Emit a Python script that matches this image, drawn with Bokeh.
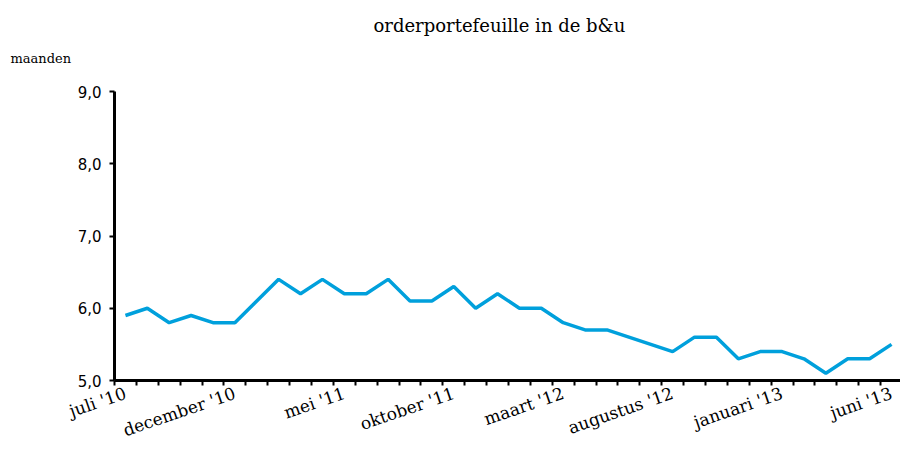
import math
from bokeh.plotting import figure
from bokeh.models import FixedTicker, Range1d, Title
from bokeh.embed import file_html
from bokeh.resources import INLINE

months = list(range(36))
values = [5.9, 6.0, 5.8, 5.9, 5.8, 5.8, 6.1, 6.4, 6.2, 6.4, 6.2, 6.2,
          6.4, 6.1, 6.1, 6.3, 6.0, 6.2, 6.0, 6.0, 5.8, 5.7, 5.7, 5.6,
          5.5, 5.4, 5.6, 5.6, 5.3, 5.4, 5.4, 5.3, 5.1, 5.3, 5.3, 5.5]
label_pos = [0, 5, 10, 15, 20, 25, 30, 35]
label_txt = ["juli '10", "december '10", "mei '11", "oktober '11",
             "maart '12", "augustus '12", "januari '13", "juni '13"]
y_ticks = [5, 6, 7, 8, 9]

SERIF = "DejaVu Serif"
W, H = 900, 452
LEFT, TOP, BOTTOM = 114, 90, 68

p = figure(width=W, height=H, output_backend="svg", toolbar_location=None,
           x_range=Range1d(-0.5, 35.41), y_range=Range1d(5, 9),
           min_border_left=LEFT, min_border_right=0, min_border_top=TOP,
           min_border_bottom=BOTTOM)
p.outline_line_color = None
p.xgrid.visible = False
p.ygrid.visible = False

p.line(months, values, line_color="#00A0DC", line_width=3.5)

xa = p.xaxis[0]
xa.ticker = FixedTicker(ticks=label_pos, minor_ticks=[m - 0.5 for m in range(37)])
xa.major_label_overrides = {k: t for k, t in zip(label_pos, label_txt)}
xa.axis_line_width = 3
xa.axis_line_color = "black"
xa.major_tick_out = 0
xa.major_tick_in = 0
xa.minor_tick_out = 5
xa.minor_tick_in = 0
xa.minor_tick_line_width = 2
xa.minor_tick_line_color = "black"
xa.major_label_orientation = math.radians(19)
xa.major_label_text_font = SERIF
xa.major_label_text_font_size = "17px"
xa.major_label_text_color = "black"
xa.major_label_standoff = 7

ya = p.yaxis[0]
ya.ticker = FixedTicker(ticks=y_ticks, minor_ticks=[])
ya.major_label_overrides = {t: f"{t},0" for t in y_ticks}
ya.axis_line_width = 3
ya.axis_line_color = "black"
ya.major_tick_out = 5
ya.major_tick_in = 0
ya.major_tick_line_width = 2
ya.major_label_text_font = "DejaVu Sans"
ya.major_label_text_font_size = "15px"
ya.major_label_text_color = "black"
ya.major_label_standoff = 8

p.title.text = "orderportefeuille in de b&u"
p.title.text_font = SERIF
p.title.text_font_size = "18px"
p.title.text_font_style = "normal"
p.title.text_color = "black"
p.title.align = "left"
p.title.offset = 373 - LEFT
p.title.standoff = 24

# blank spacer panel between the frame and the unit label
spacer = Title(text=" ", text_font_size="1px", standoff=22)
p.add_layout(spacer, "above")

unit = Title(text="maanden", text_font=SERIF, text_font_size="13px",
             text_font_style="normal", text_color="black", align="left",
             offset=10 - LEFT, standoff=2)
p.add_layout(unit, "above")

open("out.html", "w").write(file_html(p, INLINE))
